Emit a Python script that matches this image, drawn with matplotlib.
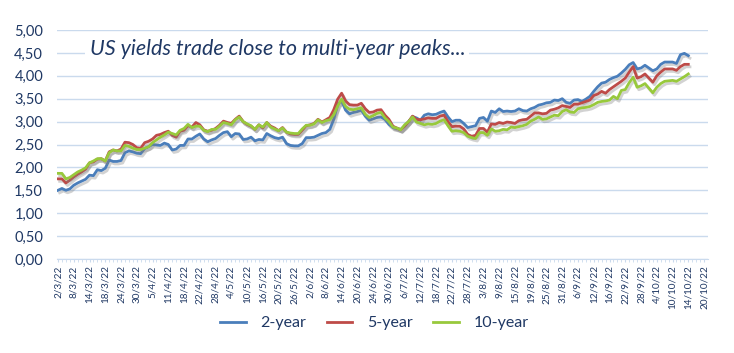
"""US 2y / 5y / 10y yields, Mar-Oct 2022, Excel-style line chart."""
import matplotlib
matplotlib.use("Agg")
import matplotlib.pyplot as plt
import matplotlib.patheffects as pe
from matplotlib.lines import Line2D
from matplotlib.ticker import FuncFormatter, MultipleLocator
import numpy as np
import pandas as pd

plt.rcParams.update({"font.family": ["Lato", "DejaVu Sans"]})

NAVY = "#1F3864"
GRID = "#CADAED"

# trading days on the category axis (two holidays left out in the source sheet)
dates = pd.bdate_range("2022-03-02", "2022-10-20")
dates = dates[~dates.isin(pd.to_datetime(["2022-04-15", "2022-05-30"]))]
labels = [f"{d.day}/{d.month}/{d:%y}" for d in dates]

y2 = [1.50, 1.54, 1.50, 1.53, 1.61, 1.66, 1.70, 1.74, 1.83, 1.82,
      1.95, 1.93, 1.98, 2.16, 2.13, 2.13, 2.15, 2.32, 2.36, 2.34,
      2.31, 2.30, 2.41, 2.45, 2.50, 2.49, 2.48, 2.53, 2.50, 2.38,
      2.40, 2.48, 2.48, 2.62, 2.62, 2.68, 2.73, 2.62, 2.56, 2.60,
      2.63, 2.70, 2.76, 2.78, 2.67, 2.74, 2.73, 2.61, 2.62, 2.66,
      2.58, 2.61, 2.60, 2.74, 2.69, 2.65, 2.63, 2.66, 2.52, 2.48,
      2.47, 2.47, 2.52, 2.65, 2.65, 2.66, 2.70, 2.74, 2.76, 2.83,
      3.05, 3.38, 3.45, 3.25, 3.17, 3.20, 3.22, 3.25, 3.12, 3.03,
      3.06, 3.09, 3.10, 3.05, 2.94, 2.87, 2.85, 2.83, 2.90, 3.00,
      3.11, 3.08, 3.03, 3.14, 3.17, 3.15, 3.16, 3.20, 3.23, 3.10,
      3.00, 3.03, 3.03, 2.96, 2.87, 2.89, 2.91, 3.07, 3.09, 3.01,
      3.23, 3.20, 3.28, 3.22, 3.23, 3.22, 3.23, 3.28, 3.24, 3.23,
      3.28, 3.31, 3.36, 3.38, 3.41, 3.42, 3.47, 3.46, 3.50, 3.42,
      3.40, 3.47, 3.48, 3.44, 3.49, 3.55, 3.66, 3.76, 3.84, 3.86,
      3.92, 3.96, 3.99, 4.06, 4.14, 4.24, 4.29, 4.15, 4.17, 4.23,
      4.17, 4.11, 4.15, 4.25, 4.30, 4.30, 4.30, 4.27, 4.46, 4.49, 4.44]

y5 = [1.75, 1.75, 1.66, 1.72, 1.79, 1.85, 1.90, 1.96, 2.10, 2.12,
      2.18, 2.19, 2.14, 2.34, 2.38, 2.36, 2.40, 2.55, 2.54, 2.50,
      2.43, 2.42, 2.54, 2.57, 2.62, 2.70, 2.72, 2.76, 2.79, 2.70,
      2.66, 2.79, 2.81, 2.91, 2.88, 2.98, 2.93, 2.82, 2.79, 2.81,
      2.85, 2.92, 3.01, 2.98, 2.96, 3.05, 3.12, 3.00, 2.94, 2.90,
      2.83, 2.93, 2.86, 2.98, 2.90, 2.86, 2.80, 2.87, 2.77, 2.73,
      2.72, 2.72, 2.81, 2.91, 2.93, 2.96, 3.05, 2.99, 3.04, 3.09,
      3.26, 3.49, 3.62, 3.45, 3.37, 3.36, 3.36, 3.40, 3.28, 3.20,
      3.21, 3.25, 3.26, 3.14, 3.05, 2.90, 2.86, 2.82, 2.90, 3.00,
      3.12, 3.05, 3.04, 3.06, 3.08, 3.07, 3.07, 3.12, 3.14, 3.00,
      2.89, 2.90, 2.90, 2.84, 2.72, 2.68, 2.70, 2.85, 2.85, 2.77,
      2.95, 2.94, 2.98, 2.96, 2.99, 2.98, 2.96, 3.02, 3.04, 3.05,
      3.12, 3.19, 3.19, 3.17, 3.18, 3.25, 3.27, 3.30, 3.35, 3.33,
      3.31, 3.38, 3.38, 3.41, 3.44, 3.47, 3.57, 3.60, 3.66, 3.62,
      3.70, 3.76, 3.82, 3.88, 3.95, 4.08, 4.20, 3.95, 3.98, 4.04,
      3.95, 3.86, 4.00, 4.08, 4.15, 4.15, 4.15, 4.12, 4.20, 4.25, 4.25]

y10 = [1.87, 1.87, 1.75, 1.78, 1.84, 1.90, 1.94, 1.99, 2.10, 2.14,
       2.19, 2.19, 2.14, 2.32, 2.38, 2.36, 2.36, 2.48, 2.46, 2.42,
       2.39, 2.39, 2.42, 2.45, 2.54, 2.60, 2.66, 2.71, 2.77, 2.74,
       2.71, 2.81, 2.85, 2.94, 2.87, 2.90, 2.90, 2.81, 2.78, 2.83,
       2.83, 2.90, 2.98, 2.96, 2.93, 3.04, 3.10, 3.00, 2.95, 2.91,
       2.83, 2.93, 2.88, 2.98, 2.88, 2.84, 2.80, 2.86, 2.77, 2.75,
       2.74, 2.74, 2.84, 2.92, 2.92, 2.95, 3.04, 2.98, 3.02, 3.04,
       3.15, 3.34, 3.49, 3.33, 3.27, 3.26, 3.28, 3.30, 3.16, 3.09,
       3.13, 3.18, 3.20, 3.08, 3.00, 2.88, 2.86, 2.82, 2.93, 3.00,
       3.10, 2.99, 2.96, 2.93, 2.95, 2.94, 2.96, 3.01, 3.04, 2.91,
       2.79, 2.80, 2.79, 2.76, 2.68, 2.65, 2.63, 2.76, 2.76, 2.70,
       2.84, 2.79, 2.80, 2.83, 2.82, 2.88, 2.87, 2.89, 2.91, 2.94,
       3.01, 3.05, 3.10, 3.05, 3.06, 3.10, 3.14, 3.13, 3.22, 3.26,
       3.21, 3.20, 3.28, 3.30, 3.31, 3.33, 3.37, 3.42, 3.44, 3.45,
       3.47, 3.55, 3.50, 3.68, 3.70, 3.85, 3.97, 3.75, 3.78, 3.83,
       3.73, 3.63, 3.75, 3.83, 3.88, 3.89, 3.90, 3.88, 3.93, 3.98, 4.04]

series = [("2-year", y2, "#4A7EBB"), ("5-year", y5, "#BE4B48"), ("10-year", y10, "#98C93C")]

W, H = 734, 353
fig = plt.figure(figsize=(W / 100, H / 100), dpi=100)
ax = fig.add_axes([57 / W, 1 - 259 / H, (708 - 57) / W, (259 - 30) / H])

x = np.arange(len(dates))
shadow = [pe.SimpleLineShadow(offset=(1.2, -1.8), shadow_color="#7f7f7f", alpha=0.35),
          pe.Normal()]
for name, vals, col in series:
    ax.plot(x[:len(vals)], vals, color=col, lw=2.0, solid_joinstyle="round",
            path_effects=shadow, zorder=3)

ax.set_xlim(-0.25, 165)
ax.set_ylim(0, 5)
ax.yaxis.set_major_locator(MultipleLocator(0.5))
ax.yaxis.set_major_formatter(FuncFormatter(lambda v, _: f"{v:.2f}".replace(".", ",")))
ax.grid(axis="y", color=GRID, lw=1.0)
ax.set_axisbelow(True)
for s in ("top", "right", "left"):
    ax.spines[s].set_visible(False)
ax.spines["bottom"].set_color(GRID)
ax.tick_params(axis="y", length=0, pad=10, labelsize=10.5, labelcolor=NAVY)

ax.set_xticks(x[::4])
ax.set_xticklabels(labels[::4], rotation=90)
ax.set_xticks(x, minor=True)
ax.tick_params(axis="x", which="both", length=2.5, color=GRID, pad=2,
               labelsize=7.2, labelcolor=NAVY)

ax.text(8.0, 4.58, "US yields trade close to multi-year peaks...",
        fontsize=15.5, style="italic", color=NAVY, va="center", ha="left", zorder=2,
        bbox=dict(facecolor="white", edgecolor="none", pad=3))

handles = [Line2D([], [], color=c, lw=2.0) for _, _, c in series]
fig.legend(handles, [n for n, _, _ in series], loc="center", ncol=3, frameon=False,
           bbox_to_anchor=(0.51, 1 - 323 / H), fontsize=11.5, handlelength=1.6,
           handletextpad=0.9, columnspacing=1.3, labelcolor=NAVY)

fig.savefig("out.png", dpi=100)
